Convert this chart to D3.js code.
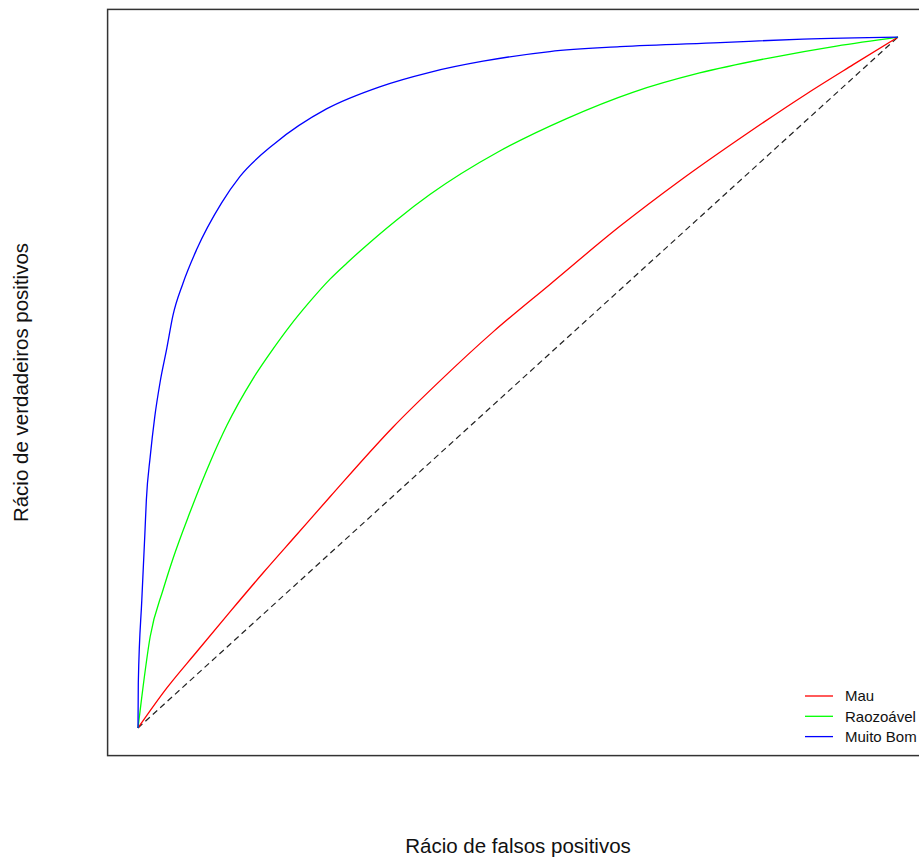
<!DOCTYPE html>
<html>
<head>
<meta charset="utf-8">
<script src="https://cdn.jsdelivr.net/npm/d3@7"></script>
<style>
  body { margin: 0; background: #fff; }
  text { font-family: "Liberation Sans", Arial, sans-serif; fill: #111; }
</style>
</head>
<body>
<svg width="919" height="858"></svg>
<script>
// ROC curves, values
var mauFpr = [0, 0.038, 0.077, 0.121, 0.165, 0.209, 0.253, 0.336, 0.397, 0.468, 0.542, 0.634, 0.713, 0.801, 0.880, 0.941, 1];
var mauTpr = [0, 0.058, 0.110, 0.168, 0.225, 0.280, 0.335, 0.436, 0.502, 0.574, 0.642, 0.726, 0.792, 0.860, 0.918, 0.960, 1];

var razFpr = [0, 0.005, 0.016, 0.033, 0.046, 0.068, 0.095, 0.117, 0.151, 0.178, 0.200, 0.226, 0.253, 0.275, 0.292, 0.340, 0.384, 0.476, 0.564, 0.651, 0.739, 0.832, 0.919, 1];
var razTpr = [0, 0.045, 0.132, 0.200, 0.245, 0.311, 0.385, 0.438, 0.505, 0.549, 0.582, 0.617, 0.650, 0.673, 0.690, 0.735, 0.772, 0.835, 0.882, 0.920, 0.948, 0.970, 0.987, 1];

var bomFpr = [0, 0.0004, 0.005, 0.009, 0.011, 0.016, 0.022, 0.029, 0.038, 0.046, 0.059, 0.077, 0.110, 0.134, 0.180, 0.248, 0.318, 0.384, 0.454, 0.542, 0.634, 0.766, 0.875, 1];
var bomTpr = [0, 0.065, 0.185, 0.280, 0.330, 0.392, 0.450, 0.500, 0.550, 0.597, 0.643, 0.692, 0.760, 0.798, 0.846, 0.896, 0.928, 0.949, 0.965, 0.979, 0.986, 0.992, 0.997, 1];

var seriesNames = ["Mau", "Raozoável", "Muito Bom"];
var seriesColors = ["#ff0000", "#00ff00", "#0000ff"];

var svg = d3.select("svg");

// plot region (R style, 4% padding)
var x = d3.scaleLinear().domain([-0.04, 1.04]).range([107.6, 928.4]);
var y = d3.scaleLinear().domain([-0.04, 1.04]).range([755.6, 9.4]);

svg.append("rect")
  .attr("x", x(-0.04)).attr("y", y(1.04))
  .attr("width", x(1.04) - x(-0.04))
  .attr("height", y(-0.04) - y(1.04))
  .attr("fill", "none")
  .attr("stroke", "#333")
  .attr("stroke-width", 1.5);

var line = d3.line()
  .x(function(d) { return x(d[0]); })
  .y(function(d) { return y(d[1]); });

// chance diagonal
svg.append("path")
  .datum([[0, 0], [1, 1]])
  .attr("d", line)
  .attr("fill", "none")
  .attr("stroke", "#222")
  .attr("stroke-width", 1.2)
  .attr("stroke-dasharray", "6,4");

var curves = [
  d3.zip(mauFpr, mauTpr),
  d3.zip(razFpr, razTpr),
  d3.zip(bomFpr, bomTpr)
];

var smooth = d3.line()
  .curve(d3.curveMonotoneX)
  .x(function(d) { return x(d[0]); })
  .y(function(d) { return y(d[1]); });

svg.append("g")
  .selectAll("path")
  .data(curves)
  .enter().append("path")
  .attr("d", smooth)
  .attr("fill", "none")
  .attr("stroke", function(d, i) { return seriesColors[i]; })
  .attr("stroke-width", 1.3);

// legend
var legend = svg.append("g").attr("transform", "translate(805,696)");
legend.selectAll("line")
  .data(seriesNames)
  .enter().append("line")
  .attr("x1", 0).attr("x2", 28)
  .attr("y1", function(d, i) { return i * 20.3; })
  .attr("y2", function(d, i) { return i * 20.3; })
  .attr("stroke", function(d, i) { return seriesColors[i]; })
  .attr("stroke-width", 1.3);
legend.selectAll("text")
  .data(seriesNames)
  .enter().append("text")
  .attr("x", 40)
  .attr("y", function(d, i) { return i * 20.3; })
  .attr("dy", "0.36em")
  .style("font-size", "15px")
  .text(function(d) { return d; });

// axis titles
svg.append("text")
  .attr("x", 518).attr("y", 853)
  .attr("text-anchor", "middle")
  .style("font-size", "20.5px")
  .text("Rácio de falsos positivos");

svg.append("text")
  .attr("transform", "translate(28,382.5) rotate(-90)")
  .attr("text-anchor", "middle")
  .style("font-size", "20.5px")
  .text("Rácio de verdadeiros positivos");
</script>
</body>
</html>
